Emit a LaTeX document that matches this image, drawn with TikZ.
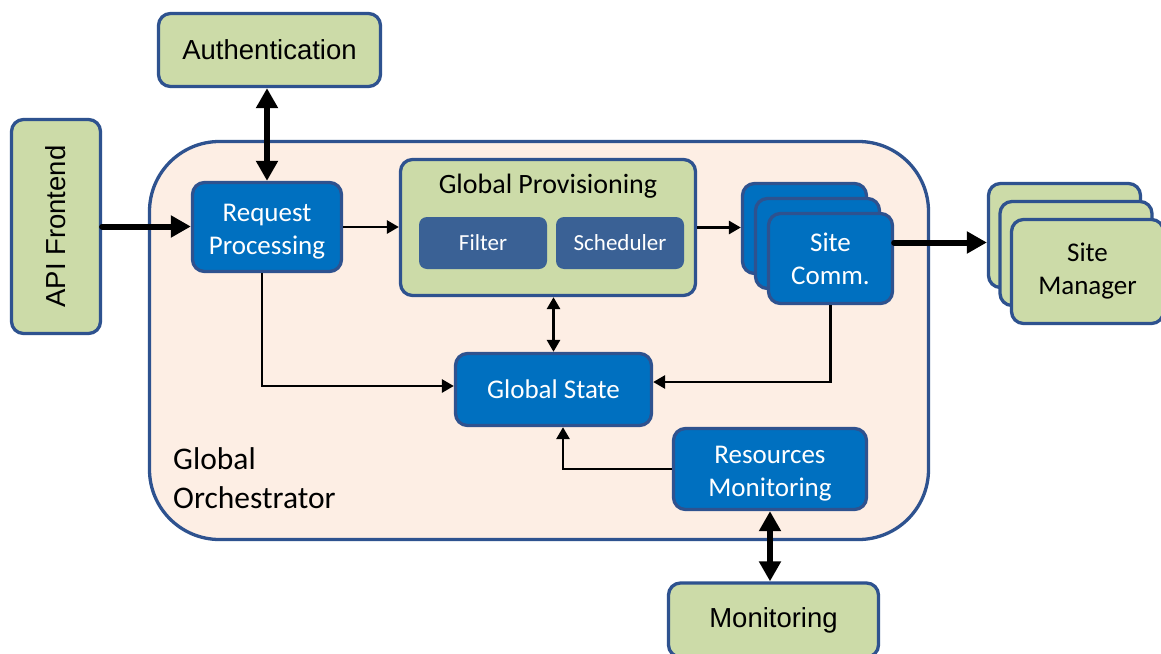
\documentclass[tikz,border=0pt]{standalone}
\usepackage{fontspec}
\setmainfont{Carlito}
\newfontfamily\arialf{Liberation Sans}
\usetikzlibrary{arrows.meta,calc}
\definecolor{gfill}{HTML}{CCDBA8}
\definecolor{bord}{HTML}{2E528F}
\definecolor{bfill}{HTML}{0070C0}
\definecolor{dfill}{HTML}{3A6195}
\definecolor{peach}{HTML}{FDEEE4}
\begin{document}
\begin{tikzpicture}[x=1pt,y=-1pt,
  box/.style={draw=bord,line width=3.3pt,rounded corners=12pt,inner sep=0pt,align=center},
  greenbox/.style={box,fill=gfill,text=black},
  arialtext/.style={font=\arialf\fontsize{27.5}{33}\selectfont},
  calitext/.style={font=\fontsize{27}{33}\selectfont},
  bluebox/.style={box,fill=bfill,text=white,calitext},
  subbox/.style={fill=dfill,text=white,rounded corners=8pt,inner sep=0pt,
    minimum width=128pt,minimum height=52pt,font=\fontsize{23}{28}\selectfont},
  sitecomm/.style={bluebox,minimum width=124pt,minimum height=90pt},
  sitemgr/.style={greenbox,calitext,minimum width=152pt,minimum height=104pt},
  thickarr/.style={line width=6pt,line cap=round,-{Triangle[length=20pt,width=21pt]}},
  thickdbl/.style={line width=6pt,{Triangle[length=20pt,width=21pt]}-{Triangle[length=20pt,width=21pt]}},
  thinarr/.style={line width=2.8pt,-{Triangle[length=12pt,width=13pt]}},
  thindbl/.style={line width=2.8pt,{Triangle[length=12pt,width=13pt]}-{Triangle[length=12pt,width=13pt]}}]
\clip (0,0) rectangle (1161,653);
\fill[white] (0,0) rectangle (1161,653);

% container
\node[box,fill=peach,rounded corners=70pt,minimum width=779pt,minimum height=398pt] (orch) at (539,340.5) {};
\node[align=left,anchor=west,inner sep=0pt,font=\fontsize{31.5}{39}\selectfont] (orchlabel) at (173,478) {Global\\Orchestrator};

% outer boxes
\node[greenbox,arialtext,minimum width=222pt,minimum height=73pt] (auth) at (269.5,50) {Authentication};
\node[greenbox,minimum width=89pt,minimum height=214pt] (api) at (56,226.5) {};
\node[arialtext,rotate=90,inner sep=0pt] (apitext) at (api.center) {API Frontend};
\node[greenbox,arialtext,minimum width=210pt,minimum height=74pt] (mon) at (773.5,620) {Monitoring};

% site managers
\node[sitemgr] (sm1) at (1064.5,235.5) {};
\node[sitemgr] (sm2) at (1076,253.5) {};
\node[sitemgr] (sm3) at (1087.5,271.5) {Site\\Manager};

% inner boxes
\node[bluebox,minimum width=149pt,minimum height=89pt] (req) at (267,227) {\rule{0pt}{26pt}Request\\Processing};
\node[greenbox,minimum width=295pt,minimum height=136pt] (gp) at (548,227.5) {};
\node[inner sep=0pt,anchor=base,font=\fontsize{28}{33}\selectfont] (gptitle) at (548,193) {Global Provisioning};
\node[subbox] (filter) at (483,243) {Filter};
\node[subbox] (sched) at (620,243) {Scheduler};
\node[sitecomm] (sc1) at (804.5,228.5) {};
\node[sitecomm] (sc2) at (817.5,243.5) {};
\node[sitecomm] (sc3) at (830.5,258.5) {Site\\Comm.};
\node[bluebox,minimum width=196pt,minimum height=72pt] (gs) at (553.5,389.5) {Global State};
\node[bluebox,minimum width=193pt,minimum height=81pt] (rm) at (770,469) {\rule{0pt}{26pt}Resources\\Monitoring};

% connectors
\draw[thickarr] (api.east) -- (req.west |- api.east);
\draw[thickdbl] (req.north) -- (req.north |- auth.south);
\draw[thinarr] (req.east) -- (gp.west |- req.east);
\draw[thinarr] (gp.east) -- (sc1.west |- gp.east);
\draw[thickarr] ([yshift=16pt]sc3.east) -- ([yshift=16pt]sc3.east -| sm1.west);
\draw[thindbl] (gs.north) -- (gs.north |- gp.south);
\draw[thinarr] ([xshift=-5pt]req.south) |- ([yshift=3.5pt]gs.west);
\draw[thinarr] (sc3.south) |- ([yshift=7.5pt]gs.east);
\draw[thinarr] (rm.west) -| ([xshift=9.5pt]gs.south);
\draw[thickdbl] (rm.south) -- (rm.south |- mon.north);
\end{tikzpicture}
\end{document}
